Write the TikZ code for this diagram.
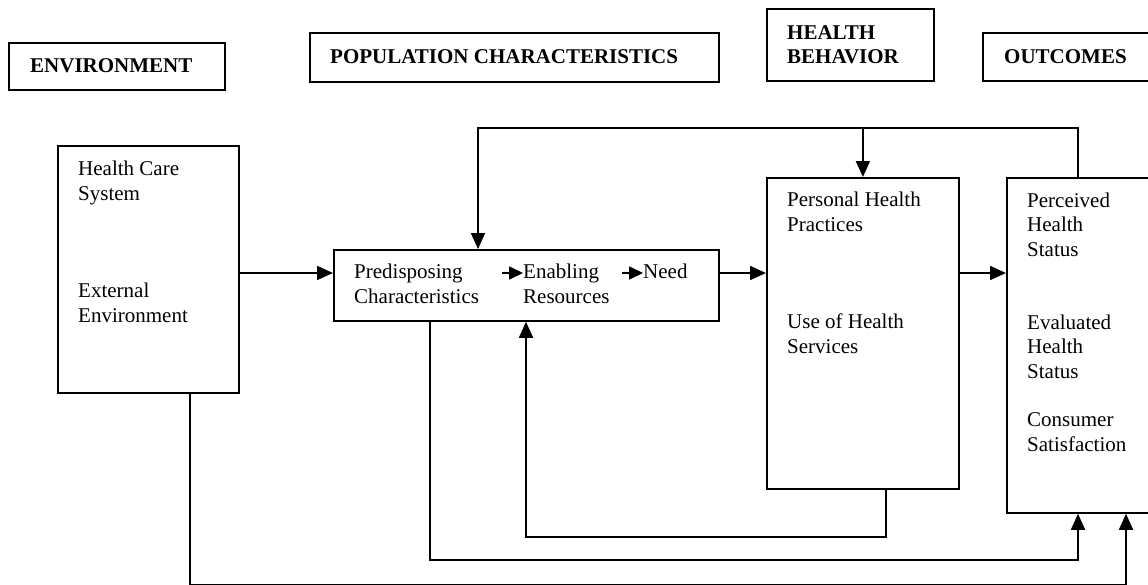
\documentclass[tikz,border=0pt]{standalone}
\usepackage{fontspec}
\setmainfont{Liberation Serif}
\usetikzlibrary{arrows.meta}
\begin{document}
\begin{tikzpicture}[x=1pt,y=-1pt,
  box/.style={draw, line width=1.8pt, inner sep=0pt, anchor=north west},
  % multi-line text: the base anchor sits on the last line
  txt/.style={anchor=base west, inner sep=0pt, align=left,
    font=\fontsize{21}{24.5}\selectfont},
  head/.style={anchor=base west, inner sep=0pt, align=left,
    font=\fontsize{21}{24}\selectfont\bfseries},
  link/.style={line width=1.7pt},
  arr/.style={link, -{Triangle[length=16pt,width=14pt]}},
  smallarr/.style={link, -{Triangle[length=14pt,width=13pt]}}]
\useasboundingbox (0,0) rectangle (1148,584);
\clip (0,0) rectangle (1148,584);

% column headings
\node[box, minimum width=216pt, minimum height=47pt] (envh) at (8,42) {};
\node[head] (envht) at (30,72) {ENVIRONMENT};
\node[box, minimum width=409pt, minimum height=49pt] (poph) at (309,32) {};
\node[head] (popht) at (330,63) {POPULATION CHARACTERISTICS};
\node[box, minimum width=167pt, minimum height=72pt] (behh) at (766,8) {};
\node[head] (behht) at (787,63) {HEALTH\\BEHAVIOR};
\node[box, minimum width=220pt, minimum height=48pt] (outh) at (982,32) {};
\node[head] (outht) at (1004,63) {OUTCOMES};

% main boxes
\node[box, minimum width=181pt, minimum height=247pt] (env) at (57,145) {};
\node[box, minimum width=385pt, minimum height=71pt] (pop) at (333,249) {};
\node[box, minimum width=192pt, minimum height=311pt] (beh) at (766,177) {};
\node[box, minimum width=220pt, minimum height=335pt] (out) at (1006,177) {};

% box contents
\node[txt] (hcs) at (78,200) {Health Care\\System};
\node[txt] (ext) at (78,322) {External\\Environment};
\node[txt] (pred) at (354,303) {Predisposing\\Characteristics};
\node[txt] (enab) at (523,303) {Enabling\\Resources};
\node[txt] (need) at (643,278) {Need};
\node[txt] (php) at (787,231) {Personal Health\\Practices};
\node[txt] (uhs) at (787,353) {Use of Health\\Services};
\node[txt] (phs) at (1027,256) {Perceived\\Health\\Status};
\node[txt] (ehs) at (1027,378) {Evaluated\\Health\\Status};
\node[txt] (cs) at (1027,451) {Consumer\\Satisfaction};

% routing points
\coordinate (row) at (0,273);
\coordinate (a1) at (502,273);
\coordinate (a2) at (622,273);
\coordinate (topy) at (0,128);
\coordinate (fx) at (1078,0);
\coordinate (px) at (478,0);
\coordinate (lb) at (886,537);
\coordinate (ux) at (526,0);
\coordinate (l2) at (430,560);
\coordinate (l3) at (190,584.4);
\coordinate (ox2) at (1126,0);

% arrows inside the population box
\draw[smallarr] (a1) -- (a1 -| enab.west);
\draw[smallarr] (a2) -- (a2 -| need.west);

% main flow
\draw[arr] (env.east |- row) -- (pop.west |- row);
\draw[arr] (pop.east |- row) -- (beh.west |- row);
\draw[arr] (beh.east |- row) -- (out.west |- row);

% feedback from outcomes
\draw[arr] (out.north -| fx) -- (fx |- topy) -- (px |- topy) -- (pop.north -| px);
\draw[arr] (beh.north |- topy) -- (beh.north);

% feedback from health behavior
\draw[arr] (beh.south -| lb) -- (lb) -- (lb -| ux) -- (pop.south -| ux);

% population and environment to outcomes
\draw[arr] (pop.south -| l2) -- (l2) -- (l2 -| fx) -- (out.south -| fx);
\draw[arr] (env.south -| l3) -- (l3) -- (l3 -| ox2) -- (out.south -| ox2);
\end{tikzpicture}
\end{document}
